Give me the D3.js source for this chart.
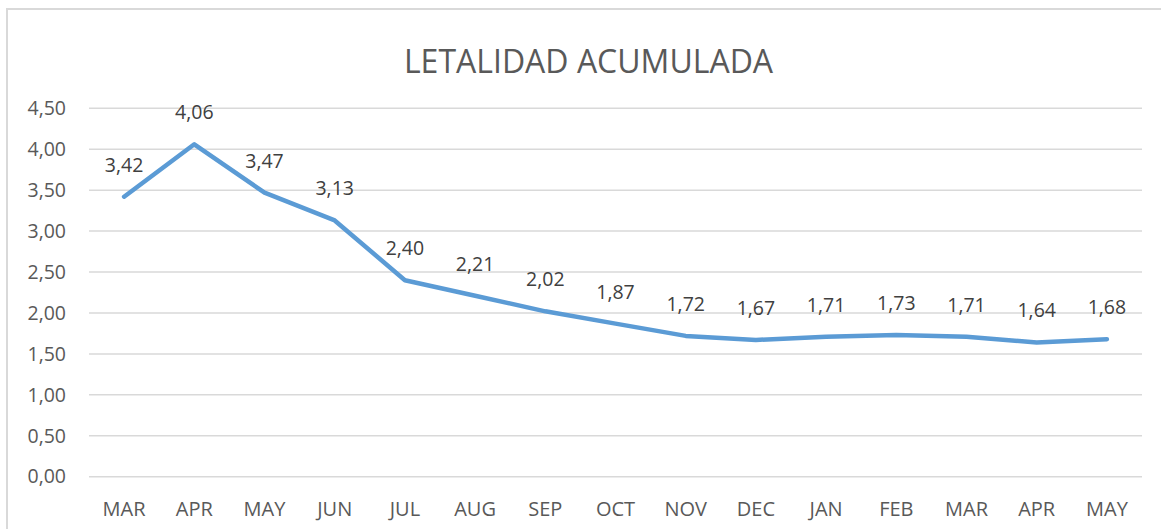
<!DOCTYPE html>
<html><head><meta charset="utf-8">
<script src="https://cdn.jsdelivr.net/npm/d3@7"></script>
<style>body{margin:0;background:#fff;} svg{display:block;}</style>
</head><body>
<script>
const categories = ["MAR","APR","MAY","JUN","JUL","AUG","SEP","OCT","NOV","DEC","JAN","FEB","MAR","APR","MAY"];
const values = [3.42,4.06,3.47,3.13,2.40,2.21,2.02,1.87,1.72,1.67,1.71,1.73,1.71,1.64,1.68];
const yTicks = [0,0.5,1,1.5,2,2.5,3,3.5,4,4.5];
const title = "LETALIDAD ACUMULADA";

(function(){
const W=1161,H=529;
const svg=d3.select("body").append("svg").attr("width",W).attr("height",H);
const font="'Open Sans', sans-serif";
svg.append("rect").attr("x",7).attr("y",9).attr("width",W).attr("height",H).attr("fill","#fff").attr("stroke","#d9d9d9").attr("stroke-width",2);

const mLeft=89,mRight=1142,mTop=108.3,mBottom=476.7;
const idx=categories.map((c,i)=>i);
const x=d3.scaleBand().domain(idx).range([mLeft,mRight]);
const y=d3.scaleLinear().domain([0,4.5]).range([mBottom,mTop]);
const fmt=v=>d3.format(".2f")(v).replace(".",",");

svg.append("g").selectAll("line").data(yTicks).join("line")
 .attr("x1",mLeft).attr("x2",mRight).attr("y1",d=>y(d)).attr("y2",d=>y(d))
 .attr("stroke","#d9d9d9").attr("stroke-width",1.5);

const ya=svg.append("g").attr("transform",`translate(${mLeft},0)`)
 .call(d3.axisLeft(y).tickValues(yTicks).tickFormat(fmt).tickSize(0).tickPadding(23));
ya.select(".domain").remove();
ya.selectAll("text").attr("font-family",font).attr("font-size",19.5).attr("fill","#595959");

const xa=svg.append("g").attr("transform",`translate(0,${mBottom})`)
 .call(d3.axisBottom(x).tickFormat(i=>categories[i]).tickSize(0).tickPadding(25));
xa.select(".domain").remove();
xa.selectAll("text").attr("font-family",font).attr("font-size",20).attr("fill","#595959");

const cx=i=>x(i)+x.bandwidth()/2;
svg.append("path").datum(values)
 .attr("d",d3.line().x((d,i)=>cx(i)).y(d=>y(d)))
 .attr("fill","none").attr("stroke","#5B9BD5").attr("stroke-width",4.5)
 .attr("stroke-linejoin","round").attr("stroke-linecap","round");

svg.append("g").selectAll("text").data(values).join("text")
 .attr("x",(d,i)=>cx(i)).attr("y",d=>y(d)-25).attr("text-anchor","middle")
 .attr("font-family",font).attr("font-size",19.5).attr("fill","#404040").text(fmt);

svg.append("text").attr("x",588.5).attr("y",73).attr("text-anchor","middle")
 .attr("font-family",font).attr("font-size",32).attr("fill","#595959").text(title);
})();
</script>
</body></html>
